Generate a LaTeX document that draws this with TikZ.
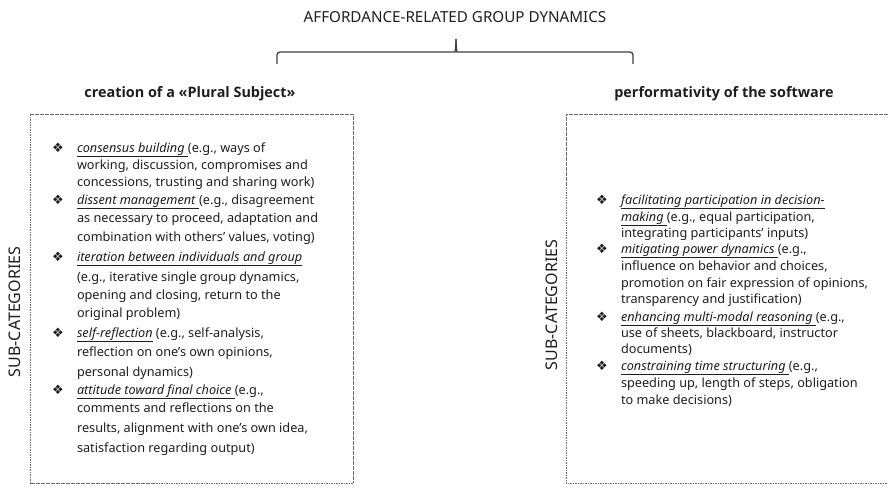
\documentclass[tikz,border=0pt]{standalone}
\usepackage{fontspec}
\setmainfont{Noto Sans}
\newfontfamily\headfont{Open Sans}
\newfontfamily\dejavu{DejaVu Sans}
\definecolor{ink}{HTML}{1E1E1E}
\definecolor{boxline}{HTML}{6A6A6A}
\newcommand{\ulit}[1]{\underline{\textit{#1}\ }}
\begin{document}
\begin{tikzpicture}[x=1pt,y=-1pt,
  every node/.style={inner sep=0pt, outer sep=0pt, text=ink},
  ln/.style={anchor=base west, font=\fontsize{12.7}{14}\selectfont},
  bul/.style={anchor=base, font=\dejavu\fontsize{13}{14}\selectfont},
  head/.style={anchor=base, font=\headfont\bfseries\fontsize{14.4}{16}\selectfont},
  side/.style={rotate=90, font=\fontsize{16}{18}\selectfont},
  dbox/.style={draw=boxline, line width=0.9pt, dash pattern=on 1.6pt off 0.9pt},
  brace/.style={draw=ink!85, line width=1.3pt, rounded corners=3pt}
]
\useasboundingbox (0,0) rectangle (888,487);

% title and brace
\node[anchor=base, font=\fontsize{15.2}{18}\selectfont] (title) at (455,23) {AFFORDANCE-RELATED GROUP DYNAMICS};
\coordinate (bl) at (277,64);
\coordinate (br) at (633,64);
\coordinate (bt) at (456,39);
\draw[brace] (bl) -- (277,52) -- (452,52) .. controls (455,52) and (456,48) .. (bt);
\draw[brace] (br) -- (633,52) -- (460,52) .. controls (457,52) and (456,48) .. (bt);

% headings
\node[head] (h1) at (190,97) {creation of a «Plural Subject»};
\node[head] (h2) at (724,97) {performativity of the software};

% boxes
\draw[dbox] (30,114) rectangle (353,483);
\draw[dbox] (888,114) -- (566,114) -- (566,483) -- (888,483);

% side labels
\node[side] (s1) at (15,312) {SUB-CATEGORIES};
\node[side] (s2) at (552,305) {SUB-CATEGORIES};

% left items
\node[bul] (lb1) at (58,152) {❖};
\node[ln] (l1) at (77,152) {\ulit{consensus building}(e.g., ways of};
\node[ln] (l2) at (77,169) {working, discussion, compromises and};
\node[ln] (l3) at (77,186) {concessions, trusting and sharing work)};
\node[bul] (lb2) at (58,204) {❖};
\node[ln] (l4) at (77,204) {\ulit{dissent management}(e.g., disagreement};
\node[ln] (l5) at (77,222) {as necessary to proceed, adaptation and};
\node[ln] (l6) at (77,241) {combination with others’ values, voting)};
\node[bul] (lb3) at (58,261) {❖};
\node[ln] (l7) at (77,261) {\underline{\textit{iteration between individuals and group}}};
\node[ln] (l8) at (77,281) {(e.g., iterative single group dynamics,};
\node[ln] (l9) at (77,299) {opening and closing, return to the};
\node[ln] (l10) at (77,317) {original problem)};
\node[bul] (lb4) at (58,337) {❖};
\node[ln] (l11) at (77,337) {\underline{\textit{self-reflection}} (e.g., self-analysis,};
\node[ln] (l12) at (77,356) {reflection on one’s own opinions,};
\node[ln] (l13) at (77,376) {personal dynamics)};
\node[bul] (lb5) at (58,394) {❖};
\node[ln] (l14) at (77,394) {\ulit{attitude toward final choice}(e.g.,};
\node[ln] (l15) at (77,412) {comments and reflections on the};
\node[ln] (l16) at (77,432) {results, alignment with one’s own idea,};
\node[ln] (l17) at (77,452) {satisfaction regarding output)};

% right items
\node[bul] (rb1) at (602,204) {❖};
\node[ln] (r1) at (621,204) {\underline{\textit{facilitating participation in decision-}}};
\node[ln] (r2) at (621,221) {\ulit{making}(e.g., equal participation,};
\node[ln] (r3) at (621,237) {integrating participants’ inputs)};
\node[bul] (rb2) at (602,253) {❖};
\node[ln] (r4) at (621,253) {\ulit{mitigating power dynamics}(e.g.,};
\node[ln] (r5) at (621,270) {influence on behavior and choices,};
\node[ln] (r6) at (621,287) {promotion on fair expression of opinions,};
\node[ln] (r7) at (621,303) {transparency and justification)};
\node[bul] (rb3) at (602,321) {❖};
\node[ln] (r8) at (621,321) {\ulit{enhancing multi-modal reasoning}(e.g.,};
\node[ln] (r9) at (621,337) {use of sheets, blackboard, instructor};
\node[ln] (r10) at (621,353) {documents)};
\node[bul] (rb4) at (602,370) {❖};
\node[ln] (r11) at (621,370) {\ulit{constraining time structuring}(e.g.,};
\node[ln] (r12) at (621,387) {speeding up, length of steps, obligation};
\node[ln] (r13) at (621,404) {to make decisions)};
\end{tikzpicture}
\end{document}
